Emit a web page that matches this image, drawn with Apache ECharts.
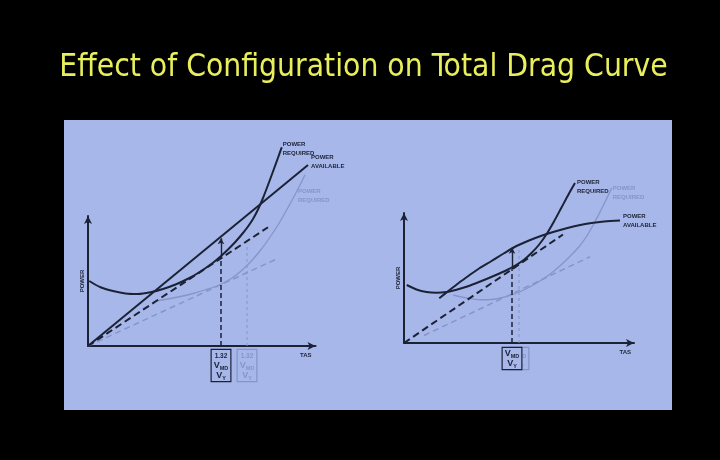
<!DOCTYPE html>
<html>
<head>
<meta charset="utf-8">
<script src="https://cdn.jsdelivr.net/npm/echarts@6/dist/echarts.min.js"></script>
<style>html,body{margin:0;padding:0;background:#000;}#c{width:720px;height:460px;}</style>
</head>
<body>
<div id="c"></div>
<script>
// ---- data (arbitrary units) ----
const titleText = 'Effect of Configuration on Total Drag Curve';
// left diagram
const L_required = [[0.5,26],[5,23.5],[10,22],[15,21],[20,20.8],[25,21.5],[30,22.8],[35,24.6],[40,26.9],[45,29.8],[50,33.3],[53,35.8],[56,38.6],[59,41.7],[62,45.2],[64,47.8],[66,50.8],[68,54.6],[70,59.2],[72,64.4],[74,69.8],[76,75.3],[77.5,79.5]];
const L_available = [[0,0],[88,72.4]];
const L_tangent = [[0,0],[72,47.5]];
const L_required2 = [[27.5,18],[32,18.8],[37,19.8],[42,21],[47,22.5],[52,24.2],[57,26.8],[61,29.8],[65,33.6],[69,38.3],[73,43.8],[76,48.4],[79,53.6],[82,59],[84.5,63.8],[86.8,68.5]];
const L_tangent2 = [[0,0],[76.1,35.1]];
const L_vmd = [[53.2,0],[53.2,35.6]];
const L_excess = [[53.2,35.6],[53.2,43.1]];
const L_vmd2 = [[63.6,0],[63.6,41]];
const L_box = ['1.32','V|MD','V|Y'];
// right diagram
const R_required = [[1.1,23.2],[5,21.4],[9,20.4],[13,20.1],[17,20.4],[21,21.3],[25,22.5],[29,24],[33,25.6],[37,27.3],[41,29.1],[45,31.3],[48,33.3],[51,36],[54,39.3],[57,43.5],[60,48.6],[63,54.2],[66,59.8],[68.4,64]];
const R_available = [[14.1,17.9],[18,21],[22,24.1],[26,27],[30,29.8],[35,32.8],[40,35.9],[45,38.8],[50,41],[55,42.9],[60,44.5],[65,45.9],[70,47.1],[75,48],[80,48.6],[86.4,49]];
const R_tangent = [[0,0],[63.6,43.4]];
const R_required2 = [[19.7,19.2],[23,18.4],[27,17.7],[31,17.3],[35,17.4],[39,18.1],[43,19.2],[47,20.8],[51,22.8],[55,25.2],[59,28],[63,31.4],[67,35.3],[70,38.5],[73,42.6],[76,47.8],[79,53.6],[81,57.6],[83.1,62]];
const R_tangent2 = [[8,3],[74.4,34.5]];
const R_vmd = [[43.2,0],[43.2,29.6]];
const R_excess = [[43.2,29.6],[43.2,38.1]];
const R_vmd2 = [[46,0],[46,38.4]];
const R_box = ['V|MD','V|Y'];
const axisMax = [[91,52],[92,52]];   // visible axis lengths
const plotMaxY = 100;                // hidden plotting extent (same scale)

// ---- styles ----
const DARK = '#1b2236';
const LIGHT = '#8695c8';
const PANEL = '#a7b7e9';
const LBL_FONT = 'Liberation Sans, Arial, sans-serif';
const UNIT = 2.5; // px per unit on both axes
const origins = [[88,346],[404,343]];

function boxFormatter(lines){
  return lines.map(function(t){
    if (t.indexOf('|') >= 0) { var p = t.split('|'); return '{v|' + p[0] + '}{s|' + p[1] + '}'; }
    return '{n|' + t + '}';
  }).join('\n');
}
function boxRich(color){
  return {
    n:{fontSize:6.5, fontWeight:'bold', lineHeight:10, color:color, fontFamily:LBL_FONT},
    v:{fontSize:9, fontWeight:'bold', lineHeight:10, color:color, fontFamily:LBL_FONT},
    s:{fontSize:5.5, fontWeight:'bold', lineHeight:10, color:color, fontFamily:LBL_FONT, verticalAlign:'bottom'}
  };
}
function endMark(data, text, color, distance, offset){
  return {
    symbol:'circle', symbolSize:0, silent:true,
    data:[{coord:data[data.length-1]}],
    label:{show:true, position:'right', distance:distance, offset:offset, formatter:text,
      color:color, fontSize:6, fontWeight:'bold', fontFamily:LBL_FONT, lineHeight:9, align:'left'}
  };
}
// series live on hidden axes 2 (left) and 3 (right)
function line(gi, data, color, width, dash, smooth, mark, z){
  return {type:'line', xAxisIndex:gi+2, yAxisIndex:gi+2, data:data, smooth:smooth,
    showSymbol:false, symbol:'none', clip:false, silent:true, z:z||2,
    lineStyle:{color:color, width:width, type:dash},
    markPoint:mark};
}
function vert(gi, data, color, width, dash, boxLines, dist, bg, z){
  return {type:'line', xAxisIndex:gi+2, yAxisIndex:gi+2, data:data, showSymbol:false, symbol:'none', clip:false, silent:true, z:z,
    lineStyle:{color:color, width:width, type:dash},
    markPoint:{symbol:'circle', symbolSize:0, silent:true, z:z,
      data:[{coord:data[0]}],
      label:{show:true, position:'bottom', distance:dist, align:'center',
        backgroundColor:bg, borderColor:color, borderWidth:1.2, padding:[1,2,0,2],
        formatter:boxFormatter(boxLines), rich:boxRich(color)}}};
}
function arrow(gi, data){
  return {type:'line', xAxisIndex:gi+2, yAxisIndex:gi+2, data:[], silent:true, z:5,
    markLine:{silent:true, symbol:['none','arrow'], symbolSize:[5,6], label:{show:false},
      lineStyle:{color:DARK, width:1.4, type:'solid'},
      data:[[{coord:data[0]},{coord:data[1]}]]}};
}
function xAx(gi){
  return {type:'value', gridIndex:gi, min:0, max:axisMax[gi][0],
    axisLine:{show:true, onZero:false, symbol:['none','arrow'], symbolSize:[6,8], lineStyle:{color:DARK, width:2}},
    axisTick:{show:false}, axisLabel:{show:false}, splitLine:{show:false},
    name:'TAS', nameLocation:'end', nameGap:gi === 0 ? -4 : -3,
    nameTextStyle:{color:DARK, fontSize:6, fontWeight:'bold', fontFamily:LBL_FONT, align:'right', verticalAlign:'top', padding:[6,0,0,0]}};
}
function yAx(gi){
  return {type:'value', gridIndex:gi, min:0, max:axisMax[gi][1],
    axisLine:{show:true, onZero:false, symbol:['none','arrow'], symbolSize:[6,8], lineStyle:{color:DARK, width:2}},
    axisTick:{show:false}, axisLabel:{show:false}, splitLine:{show:false},
    name:'POWER', nameLocation:'middle', nameGap:3,
    nameTextStyle:{color:DARK, fontSize:6, fontWeight:'bold', fontFamily:LBL_FONT}};
}
function hiddenAx(gi, max){
  return {type:'value', gridIndex:gi, min:0, max:max, show:false};
}
function visGrid(gi){
  var o = origins[gi];
  return {left:o[0], top:o[1] - axisMax[gi][1]*UNIT, width:axisMax[gi][0]*UNIT, height:axisMax[gi][1]*UNIT};
}
function hidGrid(gi){
  var o = origins[gi];
  return {left:o[0], top:o[1] - plotMaxY*UNIT, width:axisMax[gi][0]*UNIT, height:plotMaxY*UNIT};
}

const chart = echarts.init(document.getElementById('c'), null, {renderer:'canvas'});
chart.setOption({
  backgroundColor:'#000',
  animation:false,
  title:{text:titleText, left:358.5, top:47, textAlign:'center',
    textStyle:{color:'#e8ee5c', fontSize:31.5, fontWeight:'normal', fontFamily:'DejaVu Sans Condensed, DejaVu Sans, sans-serif'}},
  graphic:[{type:'rect', z:-10, silent:true, shape:{x:64, y:120, width:608, height:290}, style:{fill:PANEL}}],
  grid:[visGrid(0), visGrid(1), hidGrid(0), hidGrid(1)],
  xAxis:[xAx(0), xAx(1), hiddenAx(2, axisMax[0][0]), hiddenAx(3, axisMax[1][0])],
  yAxis:[yAx(0), yAx(1), hiddenAx(2, plotMaxY), hiddenAx(3, plotMaxY)],
  series:[
    // left
    line(0, L_required2, LIGHT, 1.3, 'solid', 0.3, endMark(L_required2, 'POWER\nREQUIRED', LIGHT, 0, [-7,21]), 2),
    line(0, L_tangent2, LIGHT, 1.5, [6,4], false, null, 2),
    vert(0, L_vmd2, LIGHT, 1, [3,3], L_box, 4, PANEL, 3),
    line(0, L_required, DARK, 2, 'solid', 0.3, endMark(L_required, 'POWER\nREQUIRED', DARK, 1, [0,1.5]), 4),
    line(0, L_available, DARK, 2, 'solid', false, endMark(L_available, 'POWER\nAVAILABLE', DARK, 3, [0,-3.5]), 4),
    line(0, L_tangent, DARK, 2, [7,4], false, null, 4),
    vert(0, L_vmd, DARK, 1.5, [5,3], L_box, 4, PANEL, 4),
    arrow(0, L_excess),
    // right
    line(1, R_required2, LIGHT, 1.3, 'solid', 0.3, endMark(R_required2, 'POWER\nREQUIRED', LIGHT, 1, [0,5]), 2),
    line(1, R_tangent2, LIGHT, 1.5, [6,4], false, null, 2),
    vert(1, R_vmd2, LIGHT, 1, [3,3], R_box, 5, PANEL, 3),
    line(1, R_required, DARK, 2, 'solid', 0.3, endMark(R_required, 'POWER\nREQUIRED', DARK, 2, [0,4]), 4),
    line(1, R_available, DARK, 2, 'solid', 0.3, endMark(R_available, 'POWER\nAVAILABLE', DARK, 3, [0,0]), 4),
    line(1, R_tangent, DARK, 2, [7,4], false, null, 4),
    vert(1, R_vmd, DARK, 1.5, [5,3], R_box, 5, PANEL, 4),
    arrow(1, R_excess)
  ]
});
</script>
</body>
</html>
